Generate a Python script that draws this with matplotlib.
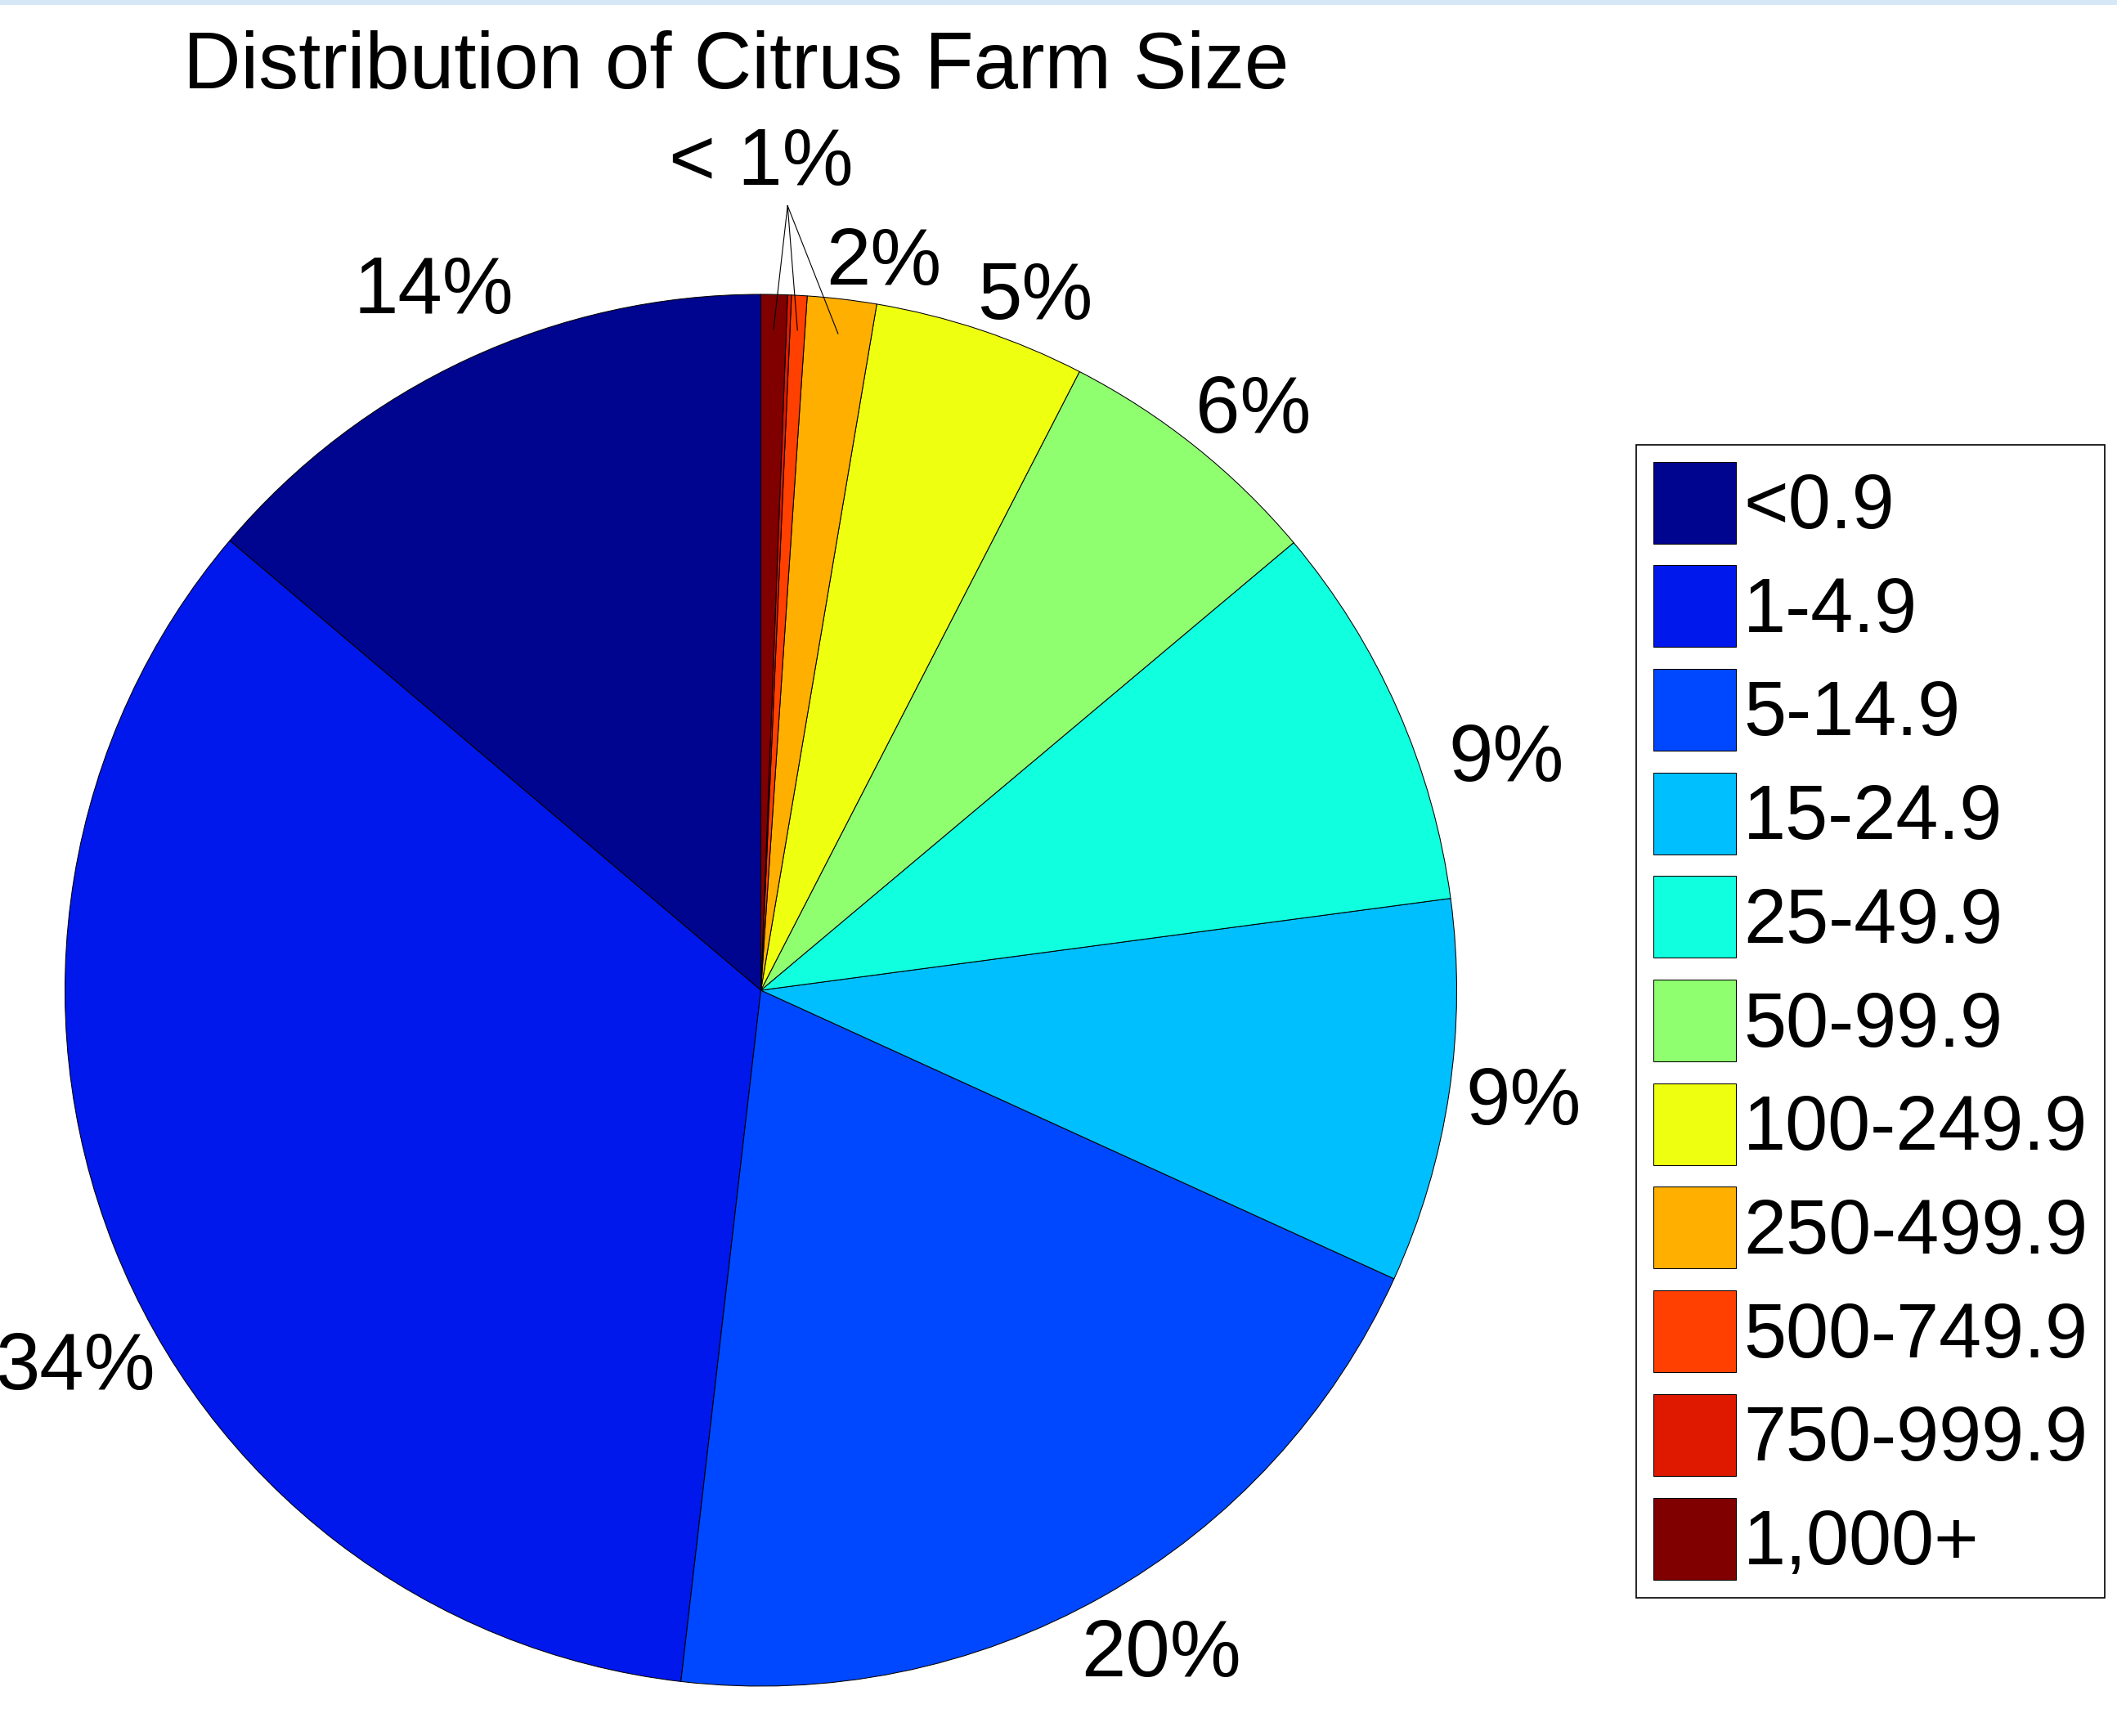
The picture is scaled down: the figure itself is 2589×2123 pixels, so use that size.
import numpy as np
import matplotlib
matplotlib.use("Agg")
import matplotlib.pyplot as plt
from matplotlib.patches import Rectangle

plt.rcParams['font.family'] = ['Liberation Sans', 'DejaVu Sans']

# ---------------- data ----------------
title = "Distribution of Citrus Farm Size"
categories = ["<0.9", "1-4.9", "5-14.9", "15-24.9", "25-49.9", "50-99.9",
              "100-249.9", "250-499.9", "500-749.9", "750-999.9", "1,000+"]
shares = [13.8, 34.3, 20.0, 8.9, 9.0, 6.3, 4.9, 1.6, 0.36, 0.09, 0.61]
small_label = "< 1%"
# slices the "< 1%" pointer lines go to (as in the original)
small_pointer_slices = [10, 8, 7]

# ---------------- style ----------------
colors = ['#00058F', '#0018EC', '#0048FF', '#00BFFF', '#10FFDF', '#8FFF70',
          '#EFFF10', '#FFAF00', '#FF4000', '#DF1800', '#800000']
# label placement tweaks (angle offset in degrees, radius factor)
label_nudges = [(0.0, 1.118), (6.8, 1.12), (1.9, 1.106), (0.6, 1.106),
                (-6.1, 1.125), (-1.4, 1.10), (-3.0, 1.08), (-2.8, 1.07)]

W, H, DPI = 2589, 2123, 100
cx, cy, R = 930.5, 1211.0, 851.0   # pie centre / radius in pixels
FS = 70.4
LFS = 67.4

fig = plt.figure(figsize=(W / DPI, H / DPI), dpi=DPI)
fig.patch.set_facecolor('white')
fig.add_artist(Rectangle((0, 1 - 6 / H), 1, 6 / H, transform=fig.transFigure,
                         facecolor='#D6E7F7', edgecolor='none'))

ax = fig.add_axes([0, 0, 1, 1])
wedges, _ = ax.pie(shares, colors=colors, startangle=90, counterclock=True,
                   wedgeprops=dict(edgecolor='black', linewidth=0.75))
ax.set_aspect('equal')
ax.set_xlim(-cx / R, (W - cx) / R)
ax.set_ylim(-(H - cy) / R, cy / R)
ax.axis('off')

cap_px = 0.716 * FS * DPI / 72.0

# percentage labels
for i, w in enumerate(wedges):
    pct = shares[i] / sum(shares) * 100
    if pct < 1:
        continue
    dang, rf = label_nudges[i]
    ang = np.deg2rad((w.theta1 + w.theta2) / 2 + dang)
    ax.annotate(f"{round(pct):d}%", xy=(rf * np.cos(ang), rf * np.sin(ang)),
                xytext=(0, -cap_px / 2), textcoords='offset pixels',
                ha='center', va='baseline', fontsize=FS, color='black')

# "< 1%" label with pointer lines
lx, ly = 0.0, 1.199
ax.annotate(small_label, xy=(lx, ly), xytext=(0, -cap_px / 2),
            textcoords='offset pixels', ha='center', va='baseline',
            fontsize=FS, color='black')
apex = (lx + 32.7 / R, ly - 61.0 / R)
for k in small_pointer_slices:
    w = wedges[k]
    ang = np.deg2rad((w.theta1 + w.theta2) / 2)
    ax.plot([apex[0], 0.95 * np.cos(ang)], [apex[1], 0.95 * np.sin(ang)],
            color='black', linewidth=0.8)

# title
fig.text(900 / W, 1 - 108 / H, title, ha='center', va='baseline',
         fontsize=FS, color='black')

# legend
leg = ax.legend(wedges, categories, loc='upper left',
                bbox_to_anchor=(2001 / W, 1 - 544 / H),
                bbox_transform=fig.transFigure, borderaxespad=0,
                fontsize=LFS, handlelength=1.08, handleheight=1.266,
                handletextpad=0.1, labelspacing=0.27, borderpad=0.22,
                fancybox=False, framealpha=1, edgecolor='black')
leg.get_frame().set_linewidth(1.2)

fig.savefig("out.png", dpi=DPI)
